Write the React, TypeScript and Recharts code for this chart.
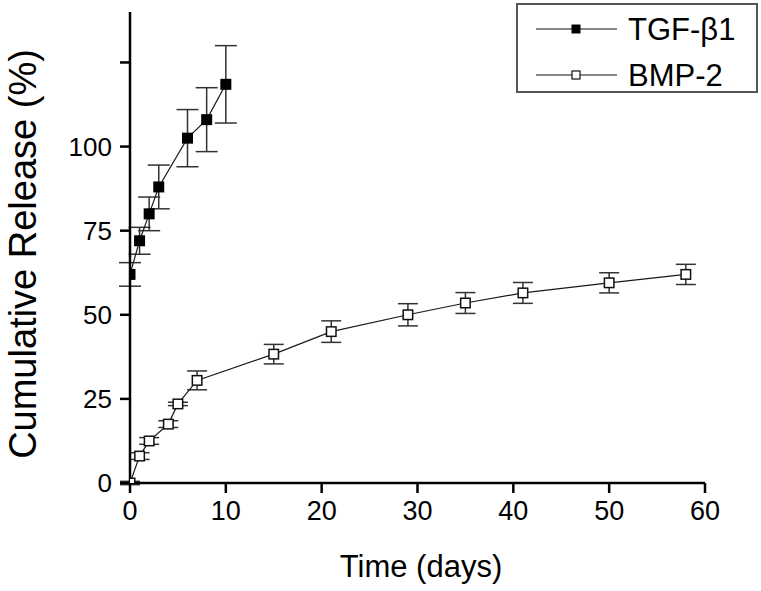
import React from "react";
import {
  LineChart,
  Line,
  XAxis,
  YAxis,
  ErrorBar,
  Label,
} from "recharts";

// TGF-β1 release
const tgfDays = [0, 1, 2, 3, 6, 8, 10];
const tgfRelease = [62, 72, 80, 88, 102.5, 108, 118.5];
const tgfErr = [3.5, 4, 5, 6.5, 8.5, 9.5, 11.5];

// BMP-2 release
const bmpDays = [0, 1, 2, 4, 5, 7, 15, 21, 29, 35, 41, 50, 58];
const bmpRelease = [0, 8, 12.5, 17.5, 23.5, 30.5, 38.3, 45, 50, 53.5, 56.5, 59.5, 62];
const bmpErr = [0.5, 1, 1, 1, 0.5, 2.8, 2.9, 3.2, 3.3, 3.1, 3.1, 3, 3];

const xTicks = [0, 10, 20, 30, 40, 50, 60];
const yTicks = [0, 25, 50, 75, 100, 125];

const FONT = '"Liberation Sans", Arial, Helvetica, sans-serif';

const tgfData = tgfDays.map((d, i) => ({ day: d, value: tgfRelease[i], err: tgfErr[i] }));
const bmpData = bmpDays.map((d, i) => ({ day: d, value: bmpRelease[i], err: bmpErr[i] }));

const FilledSquare = (props: any) => {
  const { cx, cy, index } = props;
  const s = 11;
  return <rect key={"t" + index} x={cx - s / 2} y={cy - s / 2} width={s} height={s} fill="#000" />;
};

const OpenSquare = (props: any) => {
  const { cx, cy, index } = props;
  const s = 9.5;
  return (
    <rect
      key={"b" + index}
      x={cx - s / 2}
      y={cy - s / 2}
      width={s}
      height={s}
      fill="#fff"
      stroke="#111"
      strokeWidth={1.5}
    />
  );
};

// legend drawn as an overlay box, top right
const LegendBox = () => (
  <div
    style={{
      position: "absolute",
      left: 516,
      top: 3,
      width: 242,
      height: 90,
      border: "2px solid #555",
      background: "#fff",
      boxSizing: "border-box",
    }}
  >
    <svg width={238} height={86} style={{ display: "block", overflow: "visible" }}>
      <line x1={18} x2={99} y1={24} y2={24} stroke="#111" strokeWidth={1.2} />
      <rect x={53.5} y={19.5} width={9} height={9} fill="#000" />
      <text x={110} y={35} fontSize={31} fontFamily={FONT} fill="#000">
        TGF-β1
      </text>
      <line x1={18} x2={99} y1={70} y2={70} stroke="#111" strokeWidth={1.2} />
      <rect x={54} y={66} width={8} height={8} fill="#fff" stroke="#111" strokeWidth={1.2} />
      <text x={110} y={81} fontSize={31} fontFamily={FONT} fill="#000">
        BMP-2
      </text>
    </svg>
  </div>
);

export default function App() {
  return (
    <div style={{ position: "absolute", left: 0, top: 0, width: 761, height: 591, background: "#fff" }}>
      <LineChart width={761} height={591} margin={{ top: 12, right: 56, left: 30, bottom: 48 }}>
        <XAxis
          type="number"
          dataKey="day"
          domain={[0, 60]}
          ticks={xTicks}
          allowDataOverflow
          height={60}
          tickSize={10}
          tickMargin={8}
          axisLine={{ stroke: "#000", strokeWidth: 2.5 }}
          tickLine={{ stroke: "#000", strokeWidth: 2.5 }}
          tick={{ fill: "#000", fontSize: 27, fontFamily: FONT }}
        >
          <Label
            content={() => (
              <text x={421} y={577} textAnchor="middle" fontSize={31} fontFamily={FONT} fill="#000">
                Time (days)
              </text>
            )}
          />
        </XAxis>
        <YAxis
          type="number"
          domain={[0, 140]}
          ticks={yTicks}
          allowDataOverflow
          width={100}
          tickSize={10}
          tickMargin={8}
          tickFormatter={(v: number) => (v === 125 ? "" : String(v))}
          axisLine={{ stroke: "#000", strokeWidth: 2.5 }}
          tickLine={{ stroke: "#000", strokeWidth: 2.5 }}
          tick={{ fill: "#000", fontSize: 26, fontFamily: FONT }}
        >
          <Label
            content={() => (
              <text
                x={36}
                y={254}
                transform="rotate(-90, 36, 254)"
                textAnchor="middle"
                fontSize={38}
                fontFamily={FONT}
                fill="#000"
              >
                Cumulative Release (%)
              </text>
            )}
          />
        </YAxis>
        <Line
          data={tgfData}
          dataKey="value"
          name="TGF-β1"
          stroke="#1a1a1a"
          strokeWidth={1.2}
          dot={FilledSquare}
          activeDot={false}
          isAnimationActive={false}
        >
          <ErrorBar dataKey="err" direction="y" width={11} stroke="#333" strokeWidth={1.5} isAnimationActive={false} />
        </Line>
        <Line
          data={bmpData}
          dataKey="value"
          name="BMP-2"
          stroke="#1a1a1a"
          strokeWidth={1.2}
          dot={OpenSquare}
          activeDot={false}
          isAnimationActive={false}
        >
          <ErrorBar dataKey="err" direction="y" width={10} stroke="#333" strokeWidth={1.5} isAnimationActive={false} />
        </Line>
      </LineChart>
      <LegendBox />
    </div>
  );
}
